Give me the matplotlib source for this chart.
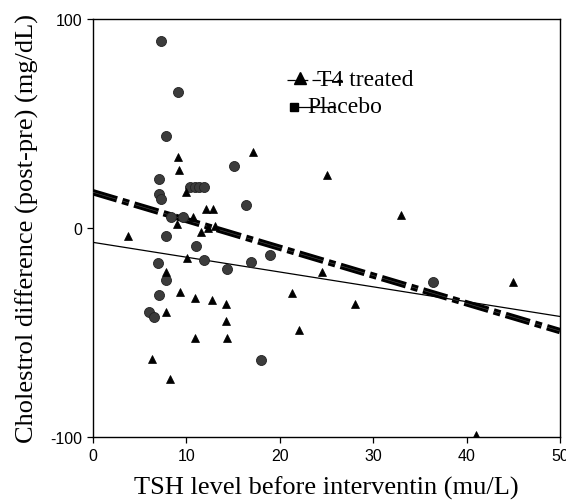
import matplotlib
matplotlib.use('Agg')
import matplotlib.pyplot as plt

plt.rcParams['axes.unicode_minus'] = False
plt.rcParams['lines.scale_dashes'] = False

# ===== Data =====
t4_tsh = [3.8, 6.3, 7.85, 7.85, 8.28, 9.07, 9.17, 9.0, 9.35, 9.96, 10.1, 10.7,
          10.9, 10.9, 11.6, 12.07, 12.3, 12.7, 12.9, 13.1, 14.2, 14.2, 14.4,
          17.1, 21.3, 22.1, 24.5, 25.1, 28.0, 33.0, 41.0, 45.0]
t4_chol = [-3.8, -62.9, -21.4, -40.5, -72.5, 33.7, 27.8, 1.8, -30.9, 17.0, -14.6, 5.0,
           -33.8, -52.8, -2.0, 9.0, -0.1, -34.5, 9.0, 0.6, -36.5, -44.5, -52.8,
           36.1, -31.3, -48.8, -21.0, 25.3, -36.7, 6.1, -99.5, -25.8]

pl_tsh = [6.0, 6.5, 6.93, 7.07, 7.1, 7.1, 7.28, 7.25, 7.85, 7.85, 7.85, 8.4, 9.07,
          9.67, 10.4, 10.9, 11.0, 11.4, 11.9, 11.9, 14.35, 15.1, 16.35, 16.95,
          18.0, 19.0, 36.4]
pl_chol = [-40.2, -42.9, -16.9, -32.2, 23.2, 16.3, 14.0, 89.5, 44.1, -3.8, -25.0, 5.0, 65.2,
           5.0, 19.7, 19.7, -8.9, 19.7, 19.7, -15.3, -19.8, 29.7, 10.9, -16.3,
           -63.2, -13.1, -25.8]

# fitted lines (intercept, slope)
fit_range = [0, 50]
t4_fit = (17.0, -1.33)
pl_fit = (-7.0, -0.71)

xticks = [0, 10, 20, 30, 40, 50]
yticks = [-100, 0, 100]

# ===== Figure =====
W, H = 566, 502
fig = plt.figure(figsize=(W / 100, H / 100), dpi=100)
ax = fig.add_axes([93 / W, 1 - 437.5 / H, 467 / W, 417.5 / H])
ax.set_xlim(0, 50)
ax.set_ylim(-100, 100)

serif = 'Liberation Serif'
sans = 'Liberation Sans'

# regression lines
ys_t4 = [t4_fit[0] + t4_fit[1] * x for x in fit_range]
ys_pl = [pl_fit[0] + pl_fit[1] * x for x in fit_range]
dd = (18, 4, 5, 4)
ax.plot(fit_range, ys_t4, color='black', lw=4.6, dashes=dd, zorder=3,
        dash_capstyle='butt')
ax.plot(fit_range, ys_t4, color='#505050', lw=0.4, dashes=dd, zorder=3.1,
        dash_capstyle='butt')
ax.plot(fit_range, ys_pl, color='black', lw=0.9, zorder=3)

# points
ax.plot(pl_tsh, pl_chol, linestyle='none', marker='o', ms=7.2,
        mfc='#3c3c3c', mec='#222222', mew=0.6, zorder=4)
ax.plot(t4_tsh, t4_chol, linestyle='none', marker='^', ms=6,
        mfc='black', mec='black', mew=0.5, zorder=5)

# legend drawn by hand (handles run into the text, as in the original)
tr = ax.transAxes
ax.plot([0.415, 0.533], [0.854, 0.854], color='black', lw=0.9, dashes=(6, 3),
        transform=tr, zorder=6)
ax.plot([0.443], [0.858], marker='^', ms=8, color='black', transform=tr, zorder=6)
ax.text(0.480, 0.854, 'T4 treated', transform=tr, family=serif, fontsize=17,
        va='center', ha='left', zorder=6)
ax.plot([0.430, 0.518], [0.790, 0.790], color='black', lw=0.9, transform=tr, zorder=6)
ax.plot([0.430], [0.790], marker='s', ms=6, color='black', transform=tr, zorder=6)
ax.text(0.460, 0.790, 'Placebo', transform=tr, family=serif, fontsize=17,
        va='center', ha='left', zorder=6)

# axes styling
ax.set_xticks(xticks)
ax.set_yticks(yticks)
ax.tick_params(direction='out', length=4, width=0.9, pad=4, labelsize=11.5)
for lb in ax.get_xticklabels() + ax.get_yticklabels():
    lb.set_family(sans)
for sp in ax.spines.values():
    sp.set_linewidth(1.0)
    sp.set_color('black')

ax.set_xlabel('TSH level before interventin (mu/L)', family=serif, fontsize=19, labelpad=9)
ax.set_ylabel('Cholestrol difference (post-pre) (mg/dL)', family=serif, fontsize=19, labelpad=8)

fig.savefig('out.png', dpi=100)
plt.close()
